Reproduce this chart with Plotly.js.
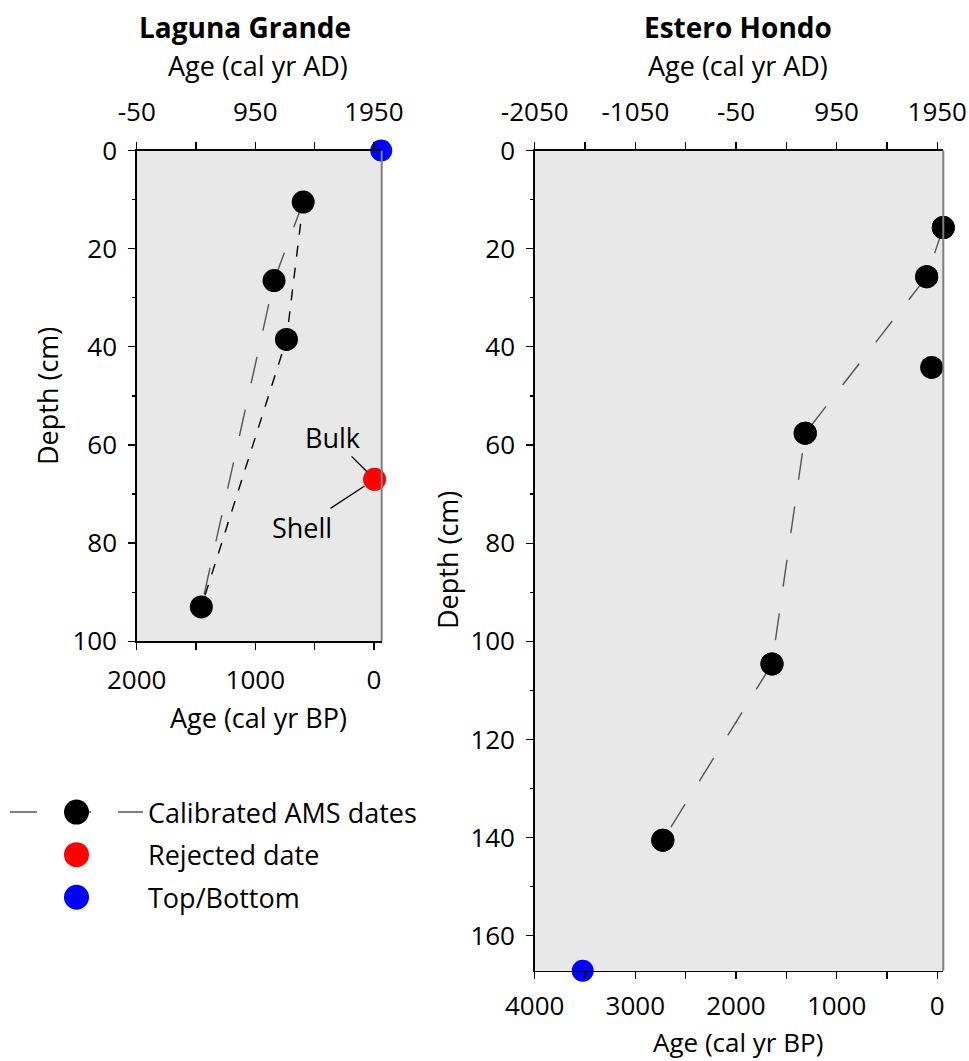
<!DOCTYPE html>
<html>
<head>
<meta charset="utf-8">
<script src="https://cdn.plot.ly/plotly-3.0.1.min.js"></script>
<style>
  html, body { margin: 0; padding: 0; background: #fff; }
  #chart { width: 969px; height: 1061px; }
</style>
</head>
<body>
<div id="chart"></div>
<script>
// Laguna Grande: calibrated dates (cal yr BP) vs depth (cm)
var lgAge = [596, 842, 737, 1455];
var lgDepth = [10.5, 26.5, 38.5, 93];
var lgModelGray = [0, 1, 3];   // indices joined by the long-dash age model
var lgModelBlack = [0, 2, 3];  // indices joined by the short-dash age model
var lgRejAge = [-6];
var lgRejDepth = [67];
var lgTopAge = [-62];
var lgTopDepth = [0];

// Estero Hondo
var ehAge = [-60, 105, 56, 1312, 1642, 2727];
var ehDepth = [15.7, 25.7, 44.2, 57.6, 104.6, 140.5];
var ehModel = [0, 1, 3, 4, 5];
var ehEndAge = [-62, 3523];
var ehEndDepth = [0, 167.1];

// top axis tick labels (cal yr AD), hyphen minus as in the original
var lgAdTicks = [-50, 950, 1950];
var lgAdLabels = ['-50', '950', '1950'];
var ehAdTicks = [-2050, -1050, -50, 950, 1950];
var ehAdLabels = ['-2050', '-1050', '-50', '950', '1950'];

function pick(arr, idx) { return idx.map(function(i) { return arr[i]; }); }

var FONT = '"Open Sans", Lato, "DejaVu Sans", sans-serif';
var TXT = 27;
var TICK = 26;
var GRAY = '#555555';
var MS = 23;

var data = [
  {   // legend entry + Estero Hondo age model
    x: pick(ehAge, ehModel), y: pick(ehDepth, ehModel),
    xaxis: 'x3', yaxis: 'y2',
    mode: 'lines+markers', name: 'Calibrated AMS dates', legendgroup: 'a',
    line: {color: GRAY, width: 1.4, dash: '27px,27px'},
    marker: {color: 'black', size: MS},
    cliponaxis: false
  },
  {
    x: ehAge, y: ehDepth, xaxis: 'x3', yaxis: 'y2',
    mode: 'markers', showlegend: false,
    marker: {color: 'black', size: MS}, cliponaxis: false
  },
  {
    x: pick(lgAge, lgModelGray), y: pick(lgDepth, lgModelGray),
    xaxis: 'x', yaxis: 'y', mode: 'lines', showlegend: false,
    line: {color: GRAY, width: 1.4, dash: '27px,27px'}
  },
  {
    x: pick(lgAge, lgModelBlack), y: pick(lgDepth, lgModelBlack),
    xaxis: 'x', yaxis: 'y', mode: 'lines', showlegend: false,
    line: {color: 'black', width: 1.4, dash: '11px,11px'}
  },
  {
    x: lgAge, y: lgDepth, xaxis: 'x', yaxis: 'y',
    mode: 'markers', showlegend: false,
    marker: {color: 'black', size: MS}
  },
  {
    x: lgRejAge, y: lgRejDepth, xaxis: 'x', yaxis: 'y',
    mode: 'markers', name: 'Rejected date', legendgroup: 'b',
    marker: {color: '#ff0000', size: MS}, cliponaxis: false
  },
  {
    x: lgTopAge, y: lgTopDepth, xaxis: 'x', yaxis: 'y',
    mode: 'markers', name: 'Top/Bottom', legendgroup: 'c',
    marker: {color: '#0000ff', size: MS - 1}, cliponaxis: false
  },
  {
    x: ehEndAge, y: ehEndDepth, xaxis: 'x3', yaxis: 'y2',
    mode: 'markers', name: 'Top/Bottom', legendgroup: 'c', showlegend: false,
    marker: {color: '#0000ff', size: MS - 1}, cliponaxis: false
  },
  // empty traces so the top (cal yr AD) axes get drawn
  {x: [], y: [], xaxis: 'x2', yaxis: 'y', mode: 'markers', showlegend: false},
  {x: [], y: [], xaxis: 'x4', yaxis: 'y2', mode: 'markers', showlegend: false}
];

function px(v) { return v / 969; }
function py(v) { return 1 - v / 1061; }

var tickCommon = {
  ticks: 'outside', ticklen: 7, tickwidth: 1.3, tickcolor: 'black',
  showline: true, linecolor: 'black', linewidth: 1.5,
  showgrid: false, zeroline: false, fixedrange: true,
  tickfont: {family: FONT, size: TICK, color: 'black'}
};

function axis(extra) {
  var o = {};
  for (var k in tickCommon) o[k] = tickCommon[k];
  for (var k2 in extra) o[k2] = extra[k2];
  return o;
}

var LGX = [px(136.7), px(381.7)];
var EHX = [px(534.7), px(943.3)];
var XMINOR = {dtick: 500, ticklen: 7, tickwidth: 1.3, tickcolor: 'black', ticks: 'outside'};
var YMINOR = {dtick: 10, ticklen: 3.5, tickwidth: 1.3, tickcolor: 'black', ticks: 'outside'};

var layout = {
  width: 969, height: 1061,
  margin: {l: 0, r: 0, t: 0, b: 0},
  paper_bgcolor: 'white', plot_bgcolor: '#e8e8e8',
  font: {family: FONT, size: TXT, color: 'black'},
  showlegend: true,
  legend: {
    x: px(5), y: py(788), xanchor: 'left', yanchor: 'top',
    font: {family: FONT, size: TXT, color: 'black'},
    itemwidth: 133, tracegroupgap: 4.5, bgcolor: 'rgba(0,0,0,0)'
  },
  xaxis: axis({domain: LGX, anchor: 'y', range: [2000, -66],
    tick0: 0, dtick: 1000, ticklabelstandoff: 8,
    minor: Object.assign({tick0: 0}, XMINOR)}),
  xaxis2: axis({domain: LGX, anchor: 'y', overlaying: 'x', side: 'top',
    range: [-50, 2016], tickmode: 'array', tickvals: lgAdTicks, ticktext: lgAdLabels,
    ticklabelstandoff: 11,
    minor: {tickmode: 'linear', tick0: -50, dtick: 500, ticklen: 7, tickwidth: 1.3,
      tickcolor: 'black', ticks: 'outside'}}),
  yaxis: axis({domain: [py(641.3), py(150.5)], anchor: 'x', range: [100, 0],
    tick0: 0, dtick: 20, ticklabelstandoff: 6, minor: YMINOR}),
  xaxis3: axis({domain: EHX, anchor: 'y2', range: [4000, -60],
    tick0: 0, dtick: 1000, ticklabelstandoff: 5,
    minor: Object.assign({tick0: 0}, XMINOR)}),
  xaxis4: axis({domain: EHX, anchor: 'y2', overlaying: 'x3', side: 'top',
    range: [-2050, 2010], tickmode: 'array', tickvals: ehAdTicks, ticktext: ehAdLabels,
    ticklabelstandoff: 11,
    minor: {tickmode: 'linear', tick0: -2050, dtick: 500, ticklen: 7, tickwidth: 1.3,
      tickcolor: 'black', ticks: 'outside'}}),
  yaxis2: axis({domain: [py(970.7), py(150.5)], anchor: 'x3', range: [167.1, 0],
    tick0: 0, dtick: 20, ticklabelstandoff: 6, minor: YMINOR}),
  shapes: [
    {type: 'line', xref: 'x domain', yref: 'y domain', x0: 1, x1: 1, y0: 0, y1: 1,
      line: {color: '#808080', width: 2}},
    {type: 'line', xref: 'x3 domain', yref: 'y2 domain', x0: 1, x1: 1, y0: 0, y1: 1,
      line: {color: '#808080', width: 2}}
  ],
  annotations: [
    {text: '<b>Laguna Grande</b>', x: px(245), y: py(27), font: {size: 28}},
    {text: 'Age (cal yr AD)', x: px(258), y: py(65)},
    {text: '<b>Estero Hondo</b>', x: px(738), y: py(27), font: {size: 28}},
    {text: 'Age (cal yr AD)', x: px(738), y: py(65)},
    {text: 'Age (cal yr BP)', x: px(258), y: py(717)},
    {text: 'Age (cal yr BP)', x: px(738), y: py(1042), font: {size: 26}},
    {text: 'Depth (cm)', x: px(48), y: py(396), textangle: -90},
    {text: 'Depth (cm)', x: px(447), y: py(560), textangle: -90},
    {text: 'Bulk', xref: 'x', yref: 'y', x: lgRejAge[0], y: lgRejDepth[0],
      showarrow: true, arrowhead: 0, arrowwidth: 1.3, arrowcolor: 'black',
      ax: -42, ay: -42, standoff: 11},
    {text: 'Shell', xref: 'x', yref: 'y', x: lgRejAge[0], y: lgRejDepth[0],
      showarrow: true, arrowhead: 0, arrowwidth: 1.3, arrowcolor: 'black',
      ax: -73, ay: 48, standoff: 12}
  ].map(function(a) {
    var o = {xref: 'paper', yref: 'paper', showarrow: false, borderpad: 0,
      xanchor: 'center', yanchor: 'middle', font: {family: FONT, size: TXT, color: 'black'}};
    for (var k in a) {
      if (k === 'font') { o.font.size = a.font.size; } else { o[k] = a[k]; }
    }
    return o;
  })
};

Plotly.newPlot('chart', data, layout, {staticPlot: true, displayModeBar: false}).then(function(gd) {
  // legend symbols are capped in size; scale them up to match the plotted markers
  gd.querySelectorAll('.legend .legendpoints path.scatterpts').forEach(function(p) {
    var w = p.getBBox().width;
    if (w > 0) {
      var t = p.getAttribute('transform') || '';
      p.setAttribute('transform', t + ' scale(' + (25 / w) + ')');
    }
  });
});
</script>
</body>
</html>
